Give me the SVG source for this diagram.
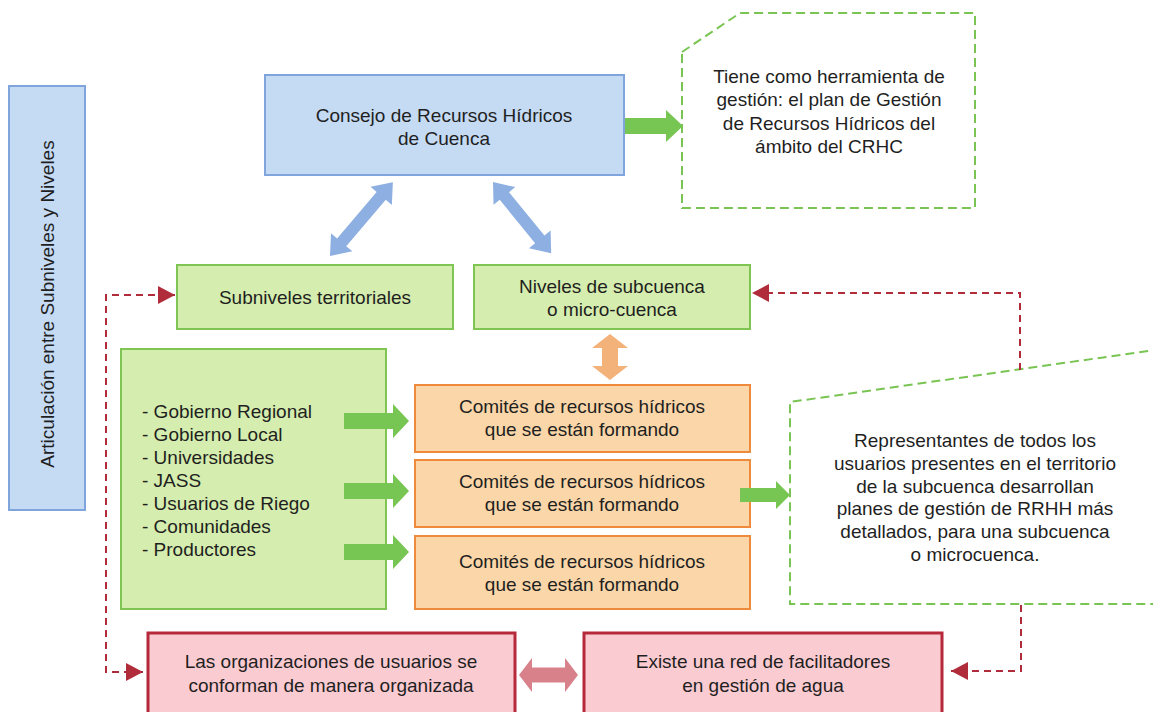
<svg xmlns="http://www.w3.org/2000/svg" width="1153" height="712" viewBox="0 0 1153 712">
<defs>
<style>
text{font-family:"Liberation Sans",Arial,sans-serif;font-size:19px;fill:#1f1f1f}
.c{text-anchor:middle}
.blue{fill:#c5daf3;stroke:#7fa5dc;stroke-width:2}
.green{fill:#d5edae;stroke:#7ec553;stroke-width:2}
.orange{fill:#fad6a9;stroke:#ee8a3c;stroke-width:2}
.pink{fill:#fbcbd2;stroke:#b5293a;stroke-width:3}
.note{fill:#ffffff;stroke:#79c453;stroke-width:2;stroke-dasharray:9 5}
.red{fill:none;stroke:#b02c3a;stroke-width:2;stroke-dasharray:7 5}
.ga{fill:#77c552}
.ba{fill:#8eafe1}
.oa{fill:#f4b27b}
.pa{fill:#d9818b}
</style>
<marker id="tri" viewBox="0 0 17 18" refX="17" refY="9" markerWidth="17" markerHeight="18" markerUnits="userSpaceOnUse" orient="auto-start-reverse">
<path d="M0,0 L17,9 L0,18 Z" fill="#b02c3a"/>
</marker>
</defs>
<rect width="1153" height="712" fill="#ffffff"/>

<g id="articulacion">
<rect class="blue" x="9" y="86" width="76" height="424"/>
<text class="c" transform="translate(47,304) rotate(-90)" x="0" y="6.5">Articulación entre Subniveles y Niveles</text>
</g>

<g id="consejo">
<rect class="blue" x="265" y="75" width="359" height="100"/>
<text class="c" x="444" y="122">Consejo de Recursos Hídricos</text>
<text class="c" x="444" y="145">de Cuenca</text>
</g>

<g id="nota-herramienta">
<polygon class="note" points="682,52 740,13 975,13 975,208 682,208"/>
<text class="c" x="829" y="83">Tiene como herramienta de</text>
<text class="c" x="829" y="106">gestión: el plan de Gestión</text>
<text class="c" x="829" y="130">de Recursos Hídricos del</text>
<text class="c" x="829" y="153">ámbito del CRHC</text>
</g>

<g id="subniveles">
<rect class="green" x="177" y="265" width="276" height="64"/>
<text class="c" x="315" y="304">Subniveles territoriales</text>
</g>

<g id="niveles">
<rect class="green" x="474" y="265" width="276" height="64"/>
<text class="c" x="612" y="293">Niveles de subcuenca</text>
<text class="c" x="612" y="316">o micro-cuenca</text>
</g>

<g id="actores">
<rect class="green" x="121" y="349" width="265" height="260"/>
<text x="142" y="418">- Gobierno Regional</text>
<text x="142" y="441">- Gobierno Local</text>
<text x="142" y="464">- Universidades</text>
<text x="142" y="487">- JASS</text>
<text x="142" y="510">- Usuarios de Riego</text>
<text x="142" y="533">- Comunidades</text>
<text x="142" y="556">- Productores</text>
</g>

<g id="comite1">
<rect class="orange" x="415" y="385" width="335" height="67"/>
<text class="c" x="582" y="413">Comités de recursos hídricos</text>
<text class="c" x="582" y="436">que se están formando</text>
</g>
<g id="comite2">
<rect class="orange" x="415" y="460" width="335" height="67"/>
<text class="c" x="582" y="488">Comités de recursos hídricos</text>
<text class="c" x="582" y="511">que se están formando</text>
</g>
<g id="comite3">
<rect class="orange" x="415" y="536" width="335" height="73"/>
<text class="c" x="582" y="568">Comités de recursos hídricos</text>
<text class="c" x="582" y="591">que se están formando</text>
</g>

<g id="nota-representantes">
<polyline class="note" points="1162,349 790,402 790,604 1162,604"/>
<text class="c" x="975" y="447">Representantes de todos los</text>
<text class="c" x="975" y="470">usuarios presentes en el territorio</text>
<text class="c" x="975" y="493">de la subcuenca desarrollan</text>
<text class="c" x="975" y="515">planes de gestión de RRHH más</text>
<text class="c" x="975" y="538">detallados, para una subcuenca</text>
<text class="c" x="975" y="561">o microcuenca.</text>
</g>

<g id="organizaciones">
<rect class="pink" x="148" y="633" width="367" height="90"/>
<text class="c" x="331" y="668">Las organizaciones de usuarios se</text>
<text class="c" x="331" y="692">conforman de manera organizada</text>
</g>

<g id="red-facilitadores">
<rect class="pink" x="584" y="633" width="358" height="90"/>
<text class="c" x="763" y="668">Existe una red de facilitadores</text>
<text class="c" x="763" y="692">en gestión de agua</text>
</g>

<g id="connectors">
<polygon class="ga" points="625,118 666,118 666,110 683,126 666,142 666,134 625,134"/>
<polygon class="ba" transform="translate(330,256) rotate(-49.6)" points="0,0 18,-14 18,-6 79,-6 79,-14 97,0 79,14 79,6 18,6 18,14"/>
<polygon class="ba" transform="translate(493,182) rotate(50.8)" points="0,0 18,-14 18,-6 74,-6 74,-14 92,0 74,14 74,6 18,6 18,14"/>
<polygon class="oa" transform="translate(610,334) rotate(90)" points="0,0 14,-18 14,-8 32,-8 32,-18 46,0 32,18 32,8 14,8 14,18"/>
<polygon class="pa" transform="translate(519,675)" points="0,0 13,-17 13,-7.5 46,-7.5 46,-17 59,0 46,17 46,7.5 13,7.5 13,17"/>
<polygon class="ga" points="344,413 393,413 393,404 409,421 393,438 393,429 344,429"/>
<polygon class="ga" points="344,483 393,483 393,474 409,491 393,508 393,499 344,499"/>
<polygon class="ga" points="344,544 393,544 393,535 409,552 393,569 393,560 344,560"/>
<polygon class="ga" points="740,488 776,488 776,481 790,495 776,509 776,502 740,502"/>
<path class="red" d="M143,672 H106 V295 H175" marker-start="url(#tri)" marker-end="url(#tri)"/>
<path class="red" d="M1020,370 V293 H752" marker-end="url(#tri)"/>
<path class="red" d="M1021,605 V671 H951" marker-end="url(#tri)"/>
</g>
</svg>
